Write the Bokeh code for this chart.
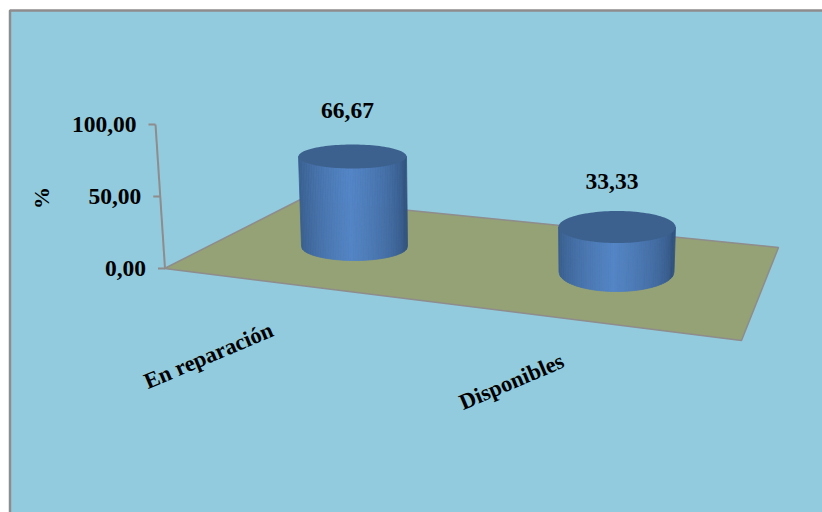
from bokeh.core.properties import value
from bokeh.embed import file_html
from bokeh.models import ColumnDataSource
from bokeh.plotting import figure
from bokeh.resources import INLINE
import numpy as np

# Chart data
categories = ["En reparación", "Disponibles"]
percentages = [66.67, 33.33]
axis_ticks = [0.0, 50.0, 100.0]
axis_title = "%"

# Colours and fonts
PANEL = "#92CBDD"
FLOOR = "#95A275"
EDGE = "#8E8C8C"
TOP = "#3C618E"
SIDE_DARK = (50, 84, 128)
SIDE_LIGHT = (84, 133, 198)
SERIF = value("Liberation Serif")

# Projection of the pseudo-3D scene onto the page
ORIGIN = (164.5, 268.0)
AXIS_TOP = (155.0, 124.0)
FLOOR_CORNERS = [(164, 268), (300, 199), (778, 247), (741, 340)]
PX_PER_UNIT = 1.35
BASES = [
    {"cx": 354.0, "base_y": 246.0, "rx_base": 53.0, "rx_top": 54.0, "ry_base": 14.0, "ry_top": 12.0, "lean": -2.0},
    {"cx": 616.0, "base_y": 271.5, "rx_base": 57.5, "rx_top": 58.5, "ry_base": 19.5, "ry_top": 16.0, "lean": 0.5},
]
LABEL_ANCHORS = [(208, 355), (511, 381)]

p = figure(
    width=822, height=512, x_range=(0, 822), y_range=(512, 0),
    output_backend="svg", toolbar_location=None, min_border=0,
    background_fill_color="white", border_fill_color="white",
    outline_line_color=None,
)
p.axis.visible = False
p.grid.visible = False

# Chart area and floor
p.quad(left=[9.5], right=[830], top=[10], bottom=[520],
       fill_color=PANEL, line_color=EDGE, line_width=2.5)
p.patch([c[0] for c in FLOOR_CORNERS], [c[1] for c in FLOOR_CORNERS],
        fill_color=FLOOR, line_color=EDGE, line_width=1.5)

# Value axis, following the slant of the back wall
def axis_point(v):
    t = v / axis_ticks[-1]
    return ORIGIN[0] + (AXIS_TOP[0] - ORIGIN[0]) * t, ORIGIN[1] + (AXIS_TOP[1] - ORIGIN[1]) * t

ax_pts = [axis_point(v) for v in (axis_ticks[0], axis_ticks[-1])]
p.line([q[0] for q in ax_pts], [q[1] for q in ax_pts], line_color=EDGE, line_width=2)
for v in axis_ticks:
    x, y = axis_point(v)
    p.line([x - 7, x], [y, y], line_color=EDGE, line_width=2)
    p.text([x - 19], [y], text=[f"{v:.2f}".replace(".", ",")], text_font=SERIF,
           text_font_style="bold", text_font_size="23.5px", text_color="black",
           text_align="right", text_baseline="middle")

p.text([40.5], [197.5], text=[axis_title], angle=[np.pi / 2], text_font=SERIF,
       text_font_style="bold", text_font_size="22px", text_color="black",
       text_align="center", text_baseline="middle")

# Cylinders: shaded side made of narrow strips, then the flat top
for pct, b in zip(percentages, BASES):
    top_y = b["base_y"] - pct * PX_PER_UNIT
    top_cx = b["cx"] + b["lean"]
    n = 64
    edges = np.linspace(-1, 1, n + 1)
    xs, ys, colors = [], [], []
    for i in range(n):
        u0, u1 = edges[i], edges[i + 1]
        mid = (u0 + u1) / 2
        shade = max(0.0, 1 - abs(mid + 0.05)) ** 0.55
        colors.append("#%02x%02x%02x" % tuple(
            int(round(d + (l - d) * shade)) for d, l in zip(SIDE_DARK, SIDE_LIGHT)))
        us = np.linspace(u0, u1, 3)
        bx = b["cx"] + b["rx_base"] * us
        by = b["base_y"] + b["ry_base"] * np.sqrt(np.clip(1 - us**2, 0, 1))
        tx = top_cx + b["rx_top"] * us
        xs.append(list(tx) + list(bx[::-1]))
        ys.append([top_y] * 3 + list(by[::-1]))
    # Strip outlines in the strip's own colour close the seams between neighbours
    p.patches(xs, ys, fill_color=colors, line_color=colors, line_width=0.8)

    theta = np.linspace(0, 2 * np.pi, 121)
    p.patch(top_cx + b["rx_top"] * np.cos(theta), top_y + b["ry_top"] * np.sin(theta),
            fill_color=TOP, line_color=None)

    # Value label above the cylinder
    p.text([top_cx - 5], [top_y - 46],
           text=[f"{pct:.2f}".replace(".", ",")], text_font=SERIF, text_font_style="bold",
           text_font_size="23.5px", text_color="black", text_align="center", text_baseline="middle")

# Slanted category labels
src = ColumnDataSource(dict(
    x=[a[0] for a in LABEL_ANCHORS], y=[a[1] for a in LABEL_ANCHORS], t=categories))
p.text("x", "y", text="t", source=src, angle=np.radians(23), text_font=SERIF,
       text_font_style="bold", text_font_size="22.5px", text_color="black",
       text_align="center", text_baseline="middle")

open("out.html", "w").write(file_html(p, INLINE))
